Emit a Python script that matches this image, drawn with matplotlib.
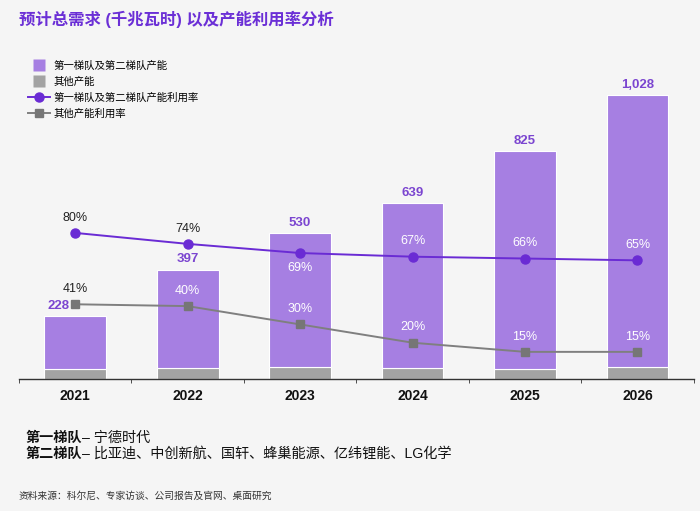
import matplotlib
matplotlib.use("Agg")
import matplotlib.pyplot as plt
from matplotlib.lines import Line2D
import numpy as np

plt.rcParams['font.family'] = ['Liberation Sans', 'Noto Sans CJK SC', 'DejaVu Sans']

years = ["2021", "2022", "2023", "2024", "2025", "2026"]
totals = [228, 397, 530, 639, 825, 1028]
other_cap = [36, 40, 43, 40, 36, 43]
tier_cap = [t - o for t, o in zip(totals, other_cap)]
tier_util = [0.80, 0.74, 0.69, 0.67, 0.66, 0.65]
other_util = [0.41, 0.40, 0.30, 0.20, 0.15, 0.15]
total_labels = ["228", "397", "530", "639", "825", "1,028"]

BG = "#F5F5F5"
PURPLE_BAR = "#A67FE2"
PURPLE_LINE = "#6A2BD4"
GRAY_BAR = "#A3A3A3"
GRAY_LINE = "#7F7F7F"
TITLE_C = "#6B2FD6"

fig = plt.figure(figsize=(7.0, 5.11), dpi=100, facecolor=BG)
ax = fig.add_axes([0.027, 0.2577, 0.964, 0.5677])
ax.set_facecolor(BG)
x = np.arange(len(years))
w = 0.55
ax.bar(x, other_cap, w, color=GRAY_BAR, edgecolor="white", linewidth=0.8, zorder=2)
ax.bar(x, tier_cap, w, bottom=other_cap, color=PURPLE_BAR, edgecolor="white", linewidth=0.8, zorder=2)
ax.set_xlim(-0.5, len(years) - 0.5)
ax.set_ylim(0, 1050)
ax.set_yticks([])
for s in ["left", "right", "top"]:
    ax.spines[s].set_visible(False)
ax.spines["bottom"].set_color("#333333")
ax.spines["bottom"].set_linewidth(1.0)
ax.set_xticks(x)
ax.set_xticklabels(years, fontweight="bold", fontsize=10, color="#111111")
ax.tick_params(axis="x", length=0, pad=7)
ax.set_xticks(np.arange(-0.5, len(years)), minor=True)
ax.tick_params(axis="x", which="minor", length=3, direction="out", color="#333333")

for i, (t, lab) in enumerate(zip(totals, total_labels)):
    dx = -12 if i == 0 else 0
    ax.annotate(lab, (x[i], t), xytext=(dx, 3), textcoords="offset points",
                ha="center", va="bottom", fontsize=9.5, fontweight="bold", color="#7B45D0", zorder=5)

ax2 = ax.twinx()
ax2.set_ylim(0, 1.585)
ax2.set_yticks([])
for s in ["left", "right", "top", "bottom"]:
    ax2.spines[s].set_visible(False)
ax2.plot(x, tier_util, color=PURPLE_LINE, lw=1.4, marker="o", ms=6.5, zorder=4)
ax2.plot(x, other_util, color=GRAY_LINE, lw=1.4, marker="s", ms=6, mfc="#767676", mec="#767676", zorder=4)

for i, v in enumerate(tier_util):
    below = (i == 2)
    col = "#222222" if i in (0, 1) else "white"
    ax2.annotate(f"{int(round(v*100))}%", (x[i], v), xytext=(0, -11 if below else 11),
                 textcoords="offset points", ha="center", va="center", fontsize=9, color=col, zorder=6)
for i, v in enumerate(other_util):
    col = "#222222" if i == 0 else "white"
    ax2.annotate(f"{int(round(v*100))}%", (x[i], v), xytext=(0, 11),
                 textcoords="offset points", ha="center", va="center", fontsize=9, color=col, zorder=6)

fig.text(0.027, 0.962, "预计总需求 (千兆瓦时) 以及产能利用率分析", fontsize=11.8, fontweight="bold",
         color=TITLE_C, ha="left", va="center")

handles = [Line2D([], [], ls="none", marker="s", ms=9, mfc=PURPLE_BAR, mec="none"),
           Line2D([], [], ls="none", marker="s", ms=9, mfc=GRAY_BAR, mec="none"),
           Line2D([], [], color=PURPLE_LINE, lw=1.4, marker="o", ms=6.5),
           Line2D([], [], color=GRAY_LINE, lw=1.4, marker="s", ms=6, mfc="#767676", mec="#767676")]
labels = ["第一梯队及第二梯队产能", "其他产能", "第一梯队及第二梯队产能利用率", "其他产能利用率"]
fig.legend(handles, labels, loc="upper left", bbox_to_anchor=(0.03, 0.895), frameon=False,
           fontsize=7.5, handlelength=2.1, handletextpad=0.3, labelspacing=0.55, borderpad=0.2)

renderer = fig.canvas.get_renderer()
def two_part(xf, yf, bold, rest, size):
    t1 = fig.text(xf, yf, bold, fontsize=size, fontweight="bold", color="#111111", ha="left", va="center")
    bb = t1.get_window_extent(renderer=renderer)
    x2 = bb.x1 / fig.bbox.width
    fig.text(x2, yf, rest, fontsize=size, color="#111111", ha="left", va="center")

two_part(0.036, 1 - 438 / 511, "第一梯队", "– 宁德时代", 10.2)
two_part(0.036, 1 - 454 / 511, "第二梯队", "– 比亚迪、中创新航、国轩、蜂巢能源、亿纬锂能、LG化学", 10.2)

fig.text(0.027, 1 - 496 / 511, "资料来源：科尔尼、专家访谈、公司报告及官网、桌面研究", fontsize=7,
         color="#333333", ha="left", va="center")

fig.savefig("out.png", dpi=100, facecolor=BG)
